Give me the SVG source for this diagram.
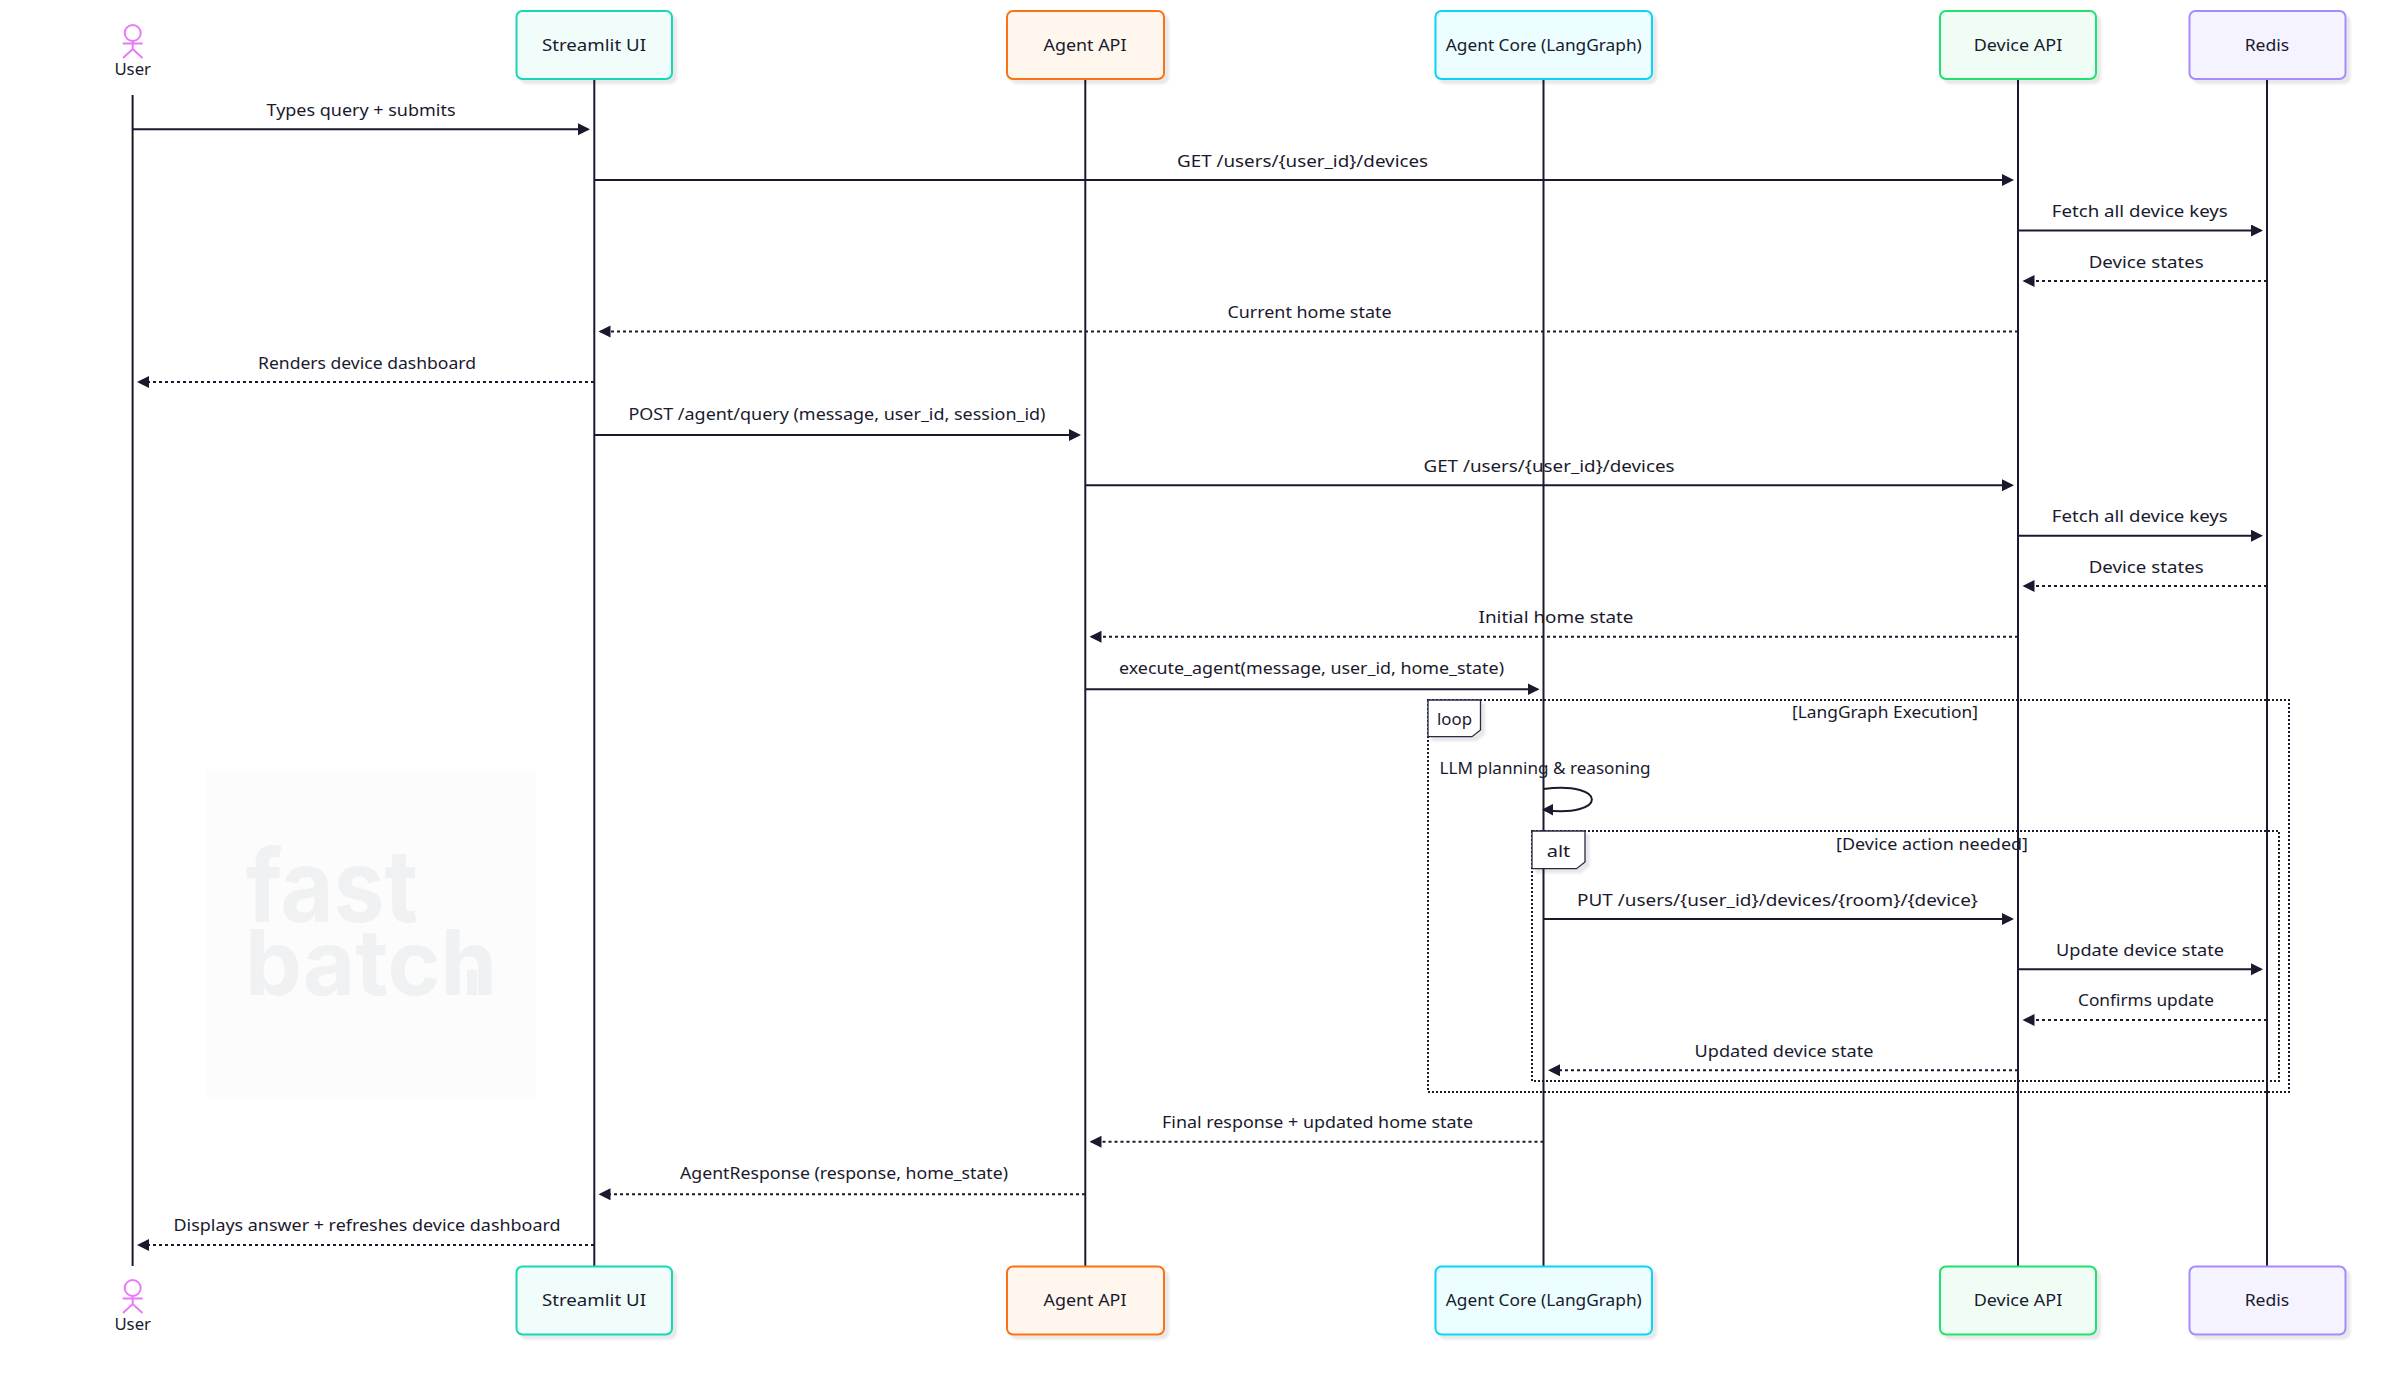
<svg xmlns="http://www.w3.org/2000/svg" width="2400" height="1378" viewBox="0 0 2400 1378">
<style>
text{font-family:"Noto Sans","Liberation Sans",sans-serif;font-size:16px;fill:#1a1a2e;text-anchor:middle}
.life{stroke:#1a1a2e;stroke-width:2;fill:none}
.msg{stroke:#1a1a2e;stroke-width:2;fill:none;marker-end:url(#arrow)}
.ret{stroke:#1a1a2e;stroke-width:2;fill:none;stroke-dasharray:3 3;marker-end:url(#arrow)}
.frame{stroke:#1a1a2e;stroke-width:2;fill:none;stroke-dasharray:2 2}
.tag{stroke:#2a2a3e;stroke-width:1.3;fill:#fff;filter:url(#shadow)}
.box{stroke-width:2;filter:url(#shadow)}
.su{stroke:#14d8b4;fill:#f0fdfa}
.aa{stroke:#f97316;fill:#fff7ed}
.ac{stroke:#0ad4f5;fill:#ecfeff}
.da{stroke:#22e06f;fill:#f0fdf4}
.re{stroke:#a78bfa;fill:#f5f3ff}
.stick{stroke:#e879f9;stroke-width:2;fill:none}
.wm{font-family:"Inter","Liberation Sans",sans-serif;font-weight:700;fill:#eff1f2;text-anchor:start}
</style>
<defs>
<marker id="arrow" markerUnits="userSpaceOnUse" markerWidth="13" markerHeight="13" refX="10" refY="6" viewBox="0 0 13 13" orient="auto"><path d="M0 0L12 6L0 12Z" fill="#1a1a2e"/></marker>
<filter id="shadow" x="-10%" y="-10%" width="125%" height="125%"><feDropShadow dx="4" dy="4" stdDeviation="1" flood-color="#000" flood-opacity="0.09"/></filter>
</defs>
<rect width="2400" height="1378" fill="#fff"/>
<g id="watermark">
<rect x="207" y="769" width="329" height="330" fill="#fcfcfc"/>
<text class="wm" style="font-size:101px" x="246" y="922" textLength="172" lengthAdjust="spacingAndGlyphs">fast</text>
<text class="wm" style="font-size:91px" x="245" y="995" textLength="252" lengthAdjust="spacingAndGlyphs">batch</text>
<rect x="467" y="970" width="10" height="25" fill="#eff1f2"/>
</g>
<g id="connectors">
<path class="life" d="M132.600 95V1266"/>
<path class="life" d="M594.300 79V1266"/>
<path class="life" d="M1085.300 79V1266"/>
<path class="life" d="M1543.500 79V1266"/>
<path class="life" d="M2018 79V1266"/>
<path class="life" d="M2267 79V1266"/>
<rect class="frame" x="1428" y="700" width="861" height="392"/>
<rect class="frame" x="1532" y="831" width="747" height="250"/>
<path class="msg" d="M133 129.300H588"/>
<path class="msg" d="M594 180H2012"/>
<path class="msg" d="M2018 230.500H2261"/>
<path class="ret" d="M2267 281H2024.500"/>
<path class="ret" d="M2018 331.500H600.500"/>
<path class="ret" d="M594 382H139"/>
<path class="msg" d="M594 435H1079"/>
<path class="msg" d="M1085 485.300H2012"/>
<path class="msg" d="M2018 535.700H2261"/>
<path class="ret" d="M2267 586H2024.500"/>
<path class="ret" d="M2018 636.700H1091.500"/>
<path class="msg" d="M1085 689.300H1537.500"/>
<path d="M1543.500 789C1608 781 1608 818 1543.500 810" stroke="#1a1a2e" stroke-width="2" fill="none"/>
<path d="M1542 809.500L1553 804V815.500Z" fill="#1a1a2e"/>
<path class="msg" d="M1543.500 919H2012"/>
<path class="msg" d="M2018 969.300H2261"/>
<path class="ret" d="M2267 1020H2024.500"/>
<path class="ret" d="M2018 1070.300H1550"/>
<path class="ret" d="M1543.500 1141.700H1091.500"/>
<path class="ret" d="M1085 1194.300H600.500"/>
<path class="ret" d="M594 1245H139"/>
</g>
<g id="loop-frame">
<path class="tag" d="M1428 700H1480.500V730L1472 736.700H1428Z"/>
<text x="1454.500" y="725" textLength="35" lengthAdjust="spacingAndGlyphs">loop</text>
<text x="1885" y="718" textLength="186" lengthAdjust="spacingAndGlyphs">[LangGraph Execution]</text>
</g>
<g id="alt-frame">
<path class="tag" d="M1532 831H1585V862L1576.500 868.700H1532Z"/>
<text x="1558.500" y="856.700" textLength="23.600" lengthAdjust="spacingAndGlyphs">alt</text>
<text x="1932" y="850" textLength="192" lengthAdjust="spacingAndGlyphs">[Device action needed]</text>
</g>
<g id="message-labels">
<text x="361" y="116" textLength="189" lengthAdjust="spacingAndGlyphs">Types query + submits</text>
<text x="1302.600" y="166.500" textLength="251" lengthAdjust="spacingAndGlyphs">GET /users/{user_id}/devices</text>
<text x="2139.800" y="217" textLength="176" lengthAdjust="spacingAndGlyphs">Fetch all device keys</text>
<text x="2146.200" y="267.500" textLength="115" lengthAdjust="spacingAndGlyphs">Device states</text>
<text x="1309.500" y="318" textLength="164" lengthAdjust="spacingAndGlyphs">Current home state</text>
<text x="367" y="369" textLength="218" lengthAdjust="spacingAndGlyphs">Renders device dashboard</text>
<text x="837" y="419.500" textLength="417" lengthAdjust="spacingAndGlyphs">POST /agent/query (message, user_id, session_id)</text>
<text x="1549" y="472" textLength="251" lengthAdjust="spacingAndGlyphs">GET /users/{user_id}/devices</text>
<text x="2139.800" y="522" textLength="176" lengthAdjust="spacingAndGlyphs">Fetch all device keys</text>
<text x="2146.200" y="572.500" textLength="115" lengthAdjust="spacingAndGlyphs">Device states</text>
<text x="1556" y="623" textLength="155" lengthAdjust="spacingAndGlyphs">Initial home state</text>
<text x="1311.500" y="673.500" textLength="385" lengthAdjust="spacingAndGlyphs">execute_agent(message, user_id, home_state)</text>
<text x="1545" y="774" textLength="211" lengthAdjust="spacingAndGlyphs">LLM planning &amp; reasoning</text>
<text x="1777.500" y="905.500" textLength="401" lengthAdjust="spacingAndGlyphs">PUT /users/{user_id}/devices/{room}/{device}</text>
<text x="2140" y="955.500" textLength="168" lengthAdjust="spacingAndGlyphs">Update device state</text>
<text x="2146" y="1006" textLength="136" lengthAdjust="spacingAndGlyphs">Confirms update</text>
<text x="1784" y="1056.500" textLength="179" lengthAdjust="spacingAndGlyphs">Updated device state</text>
<text x="1317.500" y="1128" textLength="311" lengthAdjust="spacingAndGlyphs">Final response + updated home state</text>
<text x="844" y="1179.300" textLength="328" lengthAdjust="spacingAndGlyphs">AgentResponse (response, home_state)</text>
<text x="367" y="1231" textLength="387" lengthAdjust="spacingAndGlyphs">Displays answer + refreshes device dashboard</text>
</g>
<g id="user">
<circle class="stick" cx="132.700" cy="33" r="8"/>
<path class="stick" d="M122.700 43.500H142.700M132.700 41V49M123 58L132.700 49L142.500 58"/>
<text x="132.700" y="74.500" textLength="36.600" lengthAdjust="spacingAndGlyphs">User</text>
<circle class="stick" cx="132.700" cy="1288" r="8"/>
<path class="stick" d="M122.700 1298.500H142.700M132.700 1296V1304M123 1313L132.700 1304L142.500 1313"/>
<text x="132.700" y="1329.500" textLength="36.600" lengthAdjust="spacingAndGlyphs">User</text>
</g>
<g id="streamlit-ui">
<rect class="box su" x="516.500" y="11" width="155.500" height="68" rx="6"/>
<text x="594" y="50.500" textLength="104" lengthAdjust="spacingAndGlyphs">Streamlit UI</text>
<rect class="box su" x="516.500" y="1266.500" width="155.500" height="68" rx="6"/>
<text x="594" y="1306" textLength="104" lengthAdjust="spacingAndGlyphs">Streamlit UI</text>
</g>
<g id="agent-api">
<rect class="box aa" x="1007" y="11" width="157" height="68" rx="6"/>
<text x="1085" y="50.500" textLength="83" lengthAdjust="spacingAndGlyphs">Agent API</text>
<rect class="box aa" x="1007" y="1266.500" width="157" height="68" rx="6"/>
<text x="1085" y="1306" textLength="83" lengthAdjust="spacingAndGlyphs">Agent API</text>
</g>
<g id="agent-core">
<rect class="box ac" x="1435.500" y="11" width="216.500" height="68" rx="6"/>
<text x="1543.800" y="50.500" textLength="196" lengthAdjust="spacingAndGlyphs">Agent Core (LangGraph)</text>
<rect class="box ac" x="1435.500" y="1266.500" width="216.500" height="68" rx="6"/>
<text x="1543.800" y="1306" textLength="196" lengthAdjust="spacingAndGlyphs">Agent Core (LangGraph)</text>
</g>
<g id="device-api">
<rect class="box da" x="1940" y="11" width="156" height="68" rx="6"/>
<text x="2018" y="50.500" textLength="88.600" lengthAdjust="spacingAndGlyphs">Device API</text>
<rect class="box da" x="1940" y="1266.500" width="156" height="68" rx="6"/>
<text x="2018" y="1306" textLength="88.600" lengthAdjust="spacingAndGlyphs">Device API</text>
</g>
<g id="redis">
<rect class="box re" x="2189.500" y="11" width="156" height="68" rx="6"/>
<text x="2267" y="50.500" textLength="44.600" lengthAdjust="spacingAndGlyphs">Redis</text>
<rect class="box re" x="2189.500" y="1266.500" width="156" height="68" rx="6"/>
<text x="2267" y="1306" textLength="44.600" lengthAdjust="spacingAndGlyphs">Redis</text>
</g>
</svg>
